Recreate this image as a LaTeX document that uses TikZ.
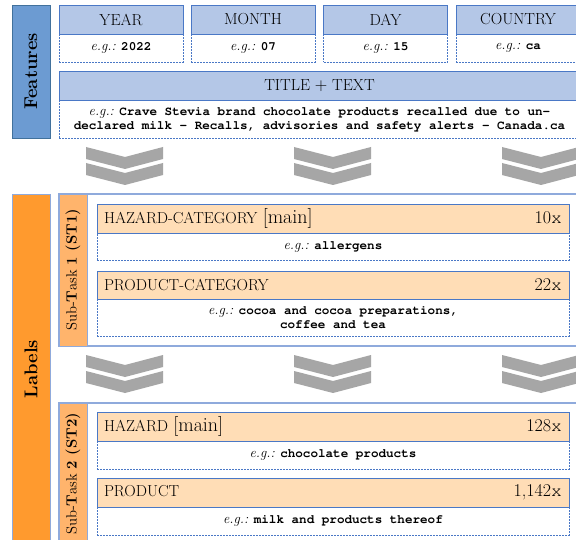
\documentclass[tikz,border=0pt]{standalone}
\usepackage[T1,TU]{fontenc}
\usepackage{fontspec}
\definecolor{fbarc}{HTML}{6C9BD2}
\definecolor{fbarb}{HTML}{41719C}
\definecolor{fheadc}{HTML}{B4C7E7}
\definecolor{bblue}{HTML}{4A78C6}
\definecolor{lbarc}{HTML}{FF9A2E}
\definecolor{stbarc}{HTML}{FFB46C}
\definecolor{lheadc}{HTML}{FFDDB6}
\definecolor{stbord}{HTML}{8FAADC}
\definecolor{chevc}{HTML}{A6A6A6}
\newcommand\courfont{\fontencoding{T1}\fontfamily{pcr}\fontseries{b}\selectfont}
\newcommand\mytt[1]{{\courfont #1}}
\newcommand\myeg[1]{{\fontsize{14}{15}\selectfont\textit{e.g.:}} \mytt{#1}}
\newcommand\mymain{{\fontsize{20}{20}\selectfont[main]}}
\newcommand\mycount[1]{{\fontsize{18}{18}\selectfont #1{\fontencoding{T1}\fontfamily{pcr}\selectfont x}}}
\tikzset{
  box/.style={draw, rectangle, inner sep=0pt, outer sep=0pt},
  fhead/.style={box, draw=bblue, fill=fheadc, line width=0.9pt, minimum width=124, minimum height=29, font=\fontsize{16}{18}\selectfont},
  fex/.style={box, draw=bblue, dash pattern=on 2pt off 1pt, line width=0.8pt, fill=white, minimum width=124, minimum height=28, font=\fontsize{12.6}{14.5}\selectfont, align=center},
  sidebar/.style={box, line width=0.9pt, minimum width=38},
  sidetext/.style={rotate=90, font=\fontsize{18.5}{20}\selectfont\bfseries},
  stouter/.style={box, draw=stbord, line width=1.2pt, minimum width=531},
  stbar/.style={box, draw=stbord, fill=stbarc, line width=0.9pt, minimum width=28},
  sttext/.style={rotate=90, font=\fontsize{14.8}{16}\selectfont},
  lhead/.style={box, draw=bblue, fill=lheadc, line width=0.9pt, text width=458pt, inner xsep=7pt, minimum height=29, align=left, font=\fontsize{15.9}{17}\selectfont},
  lex/.style={box, draw=bblue, dash pattern=on 2pt off 1pt, line width=0.8pt, fill=white, minimum width=472, font=\fontsize{12.6}{14.5}\selectfont, align=center},
  chevron/.style={fill=chevc}
}
\begin{document}
\begin{tikzpicture}[x=1pt,y=-1pt]
\clip (0,0) rectangle (576,540);
\fill[white] (0,0) rectangle (576,540);
% Features side bar
\node[sidebar, draw=fbarb, fill=fbarc, minimum height=133] (featbar) at (31,71.5) {};
\node[sidetext] (feattext) at (featbar.center) {Features};
% feature boxes
\node[fex] (yearex) at (121,48) {\myeg{2022}};
\node[fhead] (year) at (121,19.5) {YEAR};
\node[fex] (monthex) at (253,48) {\myeg{07}};
\node[fhead] (month) at (253,19.5) {MONTH};
\node[fex] (dayex) at (385.5,48) {\myeg{15}};
\node[fhead] (day) at (385.5,19.5) {DAY};
\node[fex] (countryex) at (518,48) {\myeg{ca}};
\node[fhead] (country) at (518,19.5) {COUNTRY};
\node[fex, minimum width=521, minimum height=38] (titleex) at (319.5,119) {\myeg{Crave Stevia brand chocolate products recalled due to un-}\\[-1pt]\mytt{declared milk - Recalls, advisories and safety alerts - Canada.ca}};
\node[fhead, minimum width=521] (title) at (319.5,85.5) {TITLE $+$ TEXT};
% chevrons
\foreach \cy in {147,355}{
  \foreach \cx in {125,333,541}{
    \foreach \dy in {0,16}{
      \fill[chevron] (\cx-39,\cy+\dy) -- (\cx,\cy+\dy+10) -- (\cx+38,\cy+\dy) -- (\cx+38,\cy+\dy+12) -- (\cx,\cy+\dy+22) -- (\cx-39,\cy+\dy+12) -- cycle;
    }
  }
}
% Labels side bar
\node[sidebar, draw=stbord, fill=lbarc, minimum height=350] (labbar) at (31,369) {};
\node[sidetext] (labtext) at (labbar.center) {Labels};
% Sub-task 1
\node[stouter, minimum height=152] (st1) at (324.5,270) {};
\node[stbar, minimum height=152] (st1bar) at (73,270) {};
\node[sttext] (st1text) at (st1bar.center) {Sub-\textbf{T}ask \textbf{1 (ST1)}};
\node[lex, minimum height=27] (hcex) at (333,246.5) {\myeg{allergens}};
\node[lhead] (hc) at (333,218.5) {HAZARD-CATEGORY \mymain\hfill\mycount{10}};
\node[lex, minimum height=37] (pcex) at (333,317.5) {\myeg{cocoa and cocoa preparations,}\\[-1pt]\mytt{coffee and tea}};
\node[lhead, minimum height=28] (pc) at (333,285) {PRODUCT-CATEGORY\hfill\mycount{22}};
% Sub-task 2
\node[stouter, minimum height=142] (st2) at (324.5,474) {};
\node[stbar, minimum height=142] (st2bar) at (73,474) {};
\node[sttext] (st2text) at (st2bar.center) {Sub-\textbf{T}ask \textbf{2 (ST2)}};
\node[lex, minimum height=28] (hzex) at (333,455) {\myeg{chocolate products}};
\node[lhead] (hz) at (333,426.5) {HAZARD \mymain\hfill\mycount{128}};
\node[lex, minimum height=28] (prex) at (333,521) {\myeg{milk and products thereof}};
\node[lhead] (pr) at (333,492.5) {PRODUCT\hfill\mycount{1,142}};
\end{tikzpicture}
\end{document}
